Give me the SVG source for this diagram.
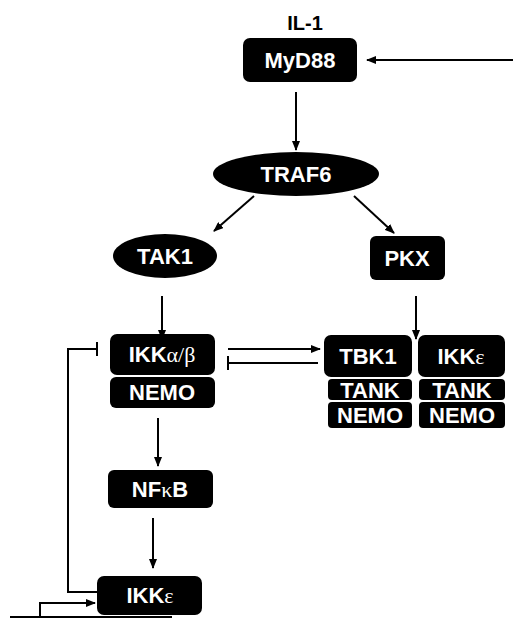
<svg xmlns="http://www.w3.org/2000/svg" width="513" height="621" viewBox="0 0 513 621">
<defs>
<marker id="ah" markerWidth="10" markerHeight="8" refX="9" refY="4" orient="auto" markerUnits="userSpaceOnUse">
<path d="M0,0 L10,4 L0,8 Z" fill="#000"/>
</marker>
<style>
.box{fill:#000}
.t{fill:#fff;font-family:"Liberation Sans",Arial,sans-serif;font-weight:bold;font-size:22px;text-anchor:middle}
.s{font-size:22px}
.g{font-weight:normal;font-family:"Liberation Serif","DejaVu Serif",serif}
.ln{stroke:#000;stroke-width:2;fill:none}
</style>
</defs>
<rect width="513" height="621" fill="#fff"/>
<g id="il1"><text x="305" y="30" style="fill:#000;font-family:'Liberation Sans',Arial,sans-serif;font-weight:bold;font-size:20px;text-anchor:middle">IL-1</text></g>
<g id="myd88"><rect class="box" x="243" y="38" width="114" height="44" rx="7"/><text class="t" x="300" y="68">MyD88</text></g>
<g id="traf6"><ellipse class="box" cx="296" cy="174" rx="83" ry="22"/><text class="t" x="296" y="182">TRAF6</text></g>
<g id="tak1"><ellipse class="box" cx="165" cy="256" rx="52" ry="22"/><text class="t" x="165" y="264">TAK1</text></g>
<g id="pkx"><rect class="box" x="370" y="236" width="75" height="44" rx="6"/><text class="t" x="407" y="266">PKX</text></g>
<g id="ikkab"><rect class="box" x="110" y="334" width="105" height="41" rx="7"/><text class="t" x="162" y="362">IKK<tspan class="g">α/β</tspan></text>
<rect class="box" x="110" y="377" width="105" height="31" rx="6"/><text class="t" x="162" y="400">NEMO</text></g>
<g id="tbk1"><rect class="box" x="324" y="335" width="88" height="42" rx="7"/><text class="t" x="368" y="364">TBK1</text>
<rect class="box" x="328" y="379" width="84" height="21" rx="4"/><text class="t s" x="370" y="398">TANK</text>
<rect class="box" x="328" y="402" width="84" height="26" rx="4"/><text class="t s" x="370" y="423">NEMO</text></g>
<g id="ikke"><rect class="box" x="418" y="335" width="87" height="42" rx="7"/><text class="t" x="461" y="364">IKK<tspan class="g">ε</tspan></text>
<rect class="box" x="419" y="379" width="86" height="21" rx="4"/><text class="t s" x="462" y="398">TANK</text>
<rect class="box" x="419" y="402" width="86" height="26" rx="4"/><text class="t s" x="462" y="423">NEMO</text></g>
<g id="nfkb"><rect class="box" x="108" y="470" width="105" height="38" rx="6"/><text class="t" x="160" y="497">NF<tspan class="g">κ</tspan>B</text></g>
<g id="ikke2"><rect class="box" x="97" y="576" width="105" height="39" rx="7"/><text class="t" x="150" y="603">IKK<tspan class="g">ε</tspan></text></g>
<g id="connectors">
<line class="ln" x1="513" y1="60" x2="367" y2="60" marker-end="url(#ah)"/>
<line class="ln" x1="296" y1="92" x2="296" y2="150" marker-end="url(#ah)"/>
<line class="ln" x1="254" y1="196" x2="214" y2="231" marker-end="url(#ah)"/>
<line class="ln" x1="354" y1="196" x2="394" y2="233" marker-end="url(#ah)"/>
<line class="ln" x1="162" y1="296" x2="162" y2="339" marker-end="url(#ah)"/>
<line class="ln" x1="416" y1="296" x2="416" y2="339" marker-end="url(#ah)"/>
<line class="ln" x1="228" y1="349" x2="320" y2="349" marker-end="url(#ah)"/>
<line class="ln" x1="318" y1="363" x2="228" y2="363"/>
<line class="ln" x1="228" y1="356" x2="228" y2="370"/>
<line class="ln" x1="158" y1="418" x2="158" y2="466" marker-end="url(#ah)"/>
<line class="ln" x1="153" y1="518" x2="153" y2="568" marker-end="url(#ah)"/>
<polyline class="ln" points="97,592 68,592 68,349 96,349"/>
<line class="ln" x1="97" y1="342" x2="97" y2="356"/>
<line class="ln" x1="10" y1="617" x2="172" y2="617"/>
<polyline class="ln" points="40,617 40,603 95,603" marker-end="url(#ah)"/>
</g>
</svg>
